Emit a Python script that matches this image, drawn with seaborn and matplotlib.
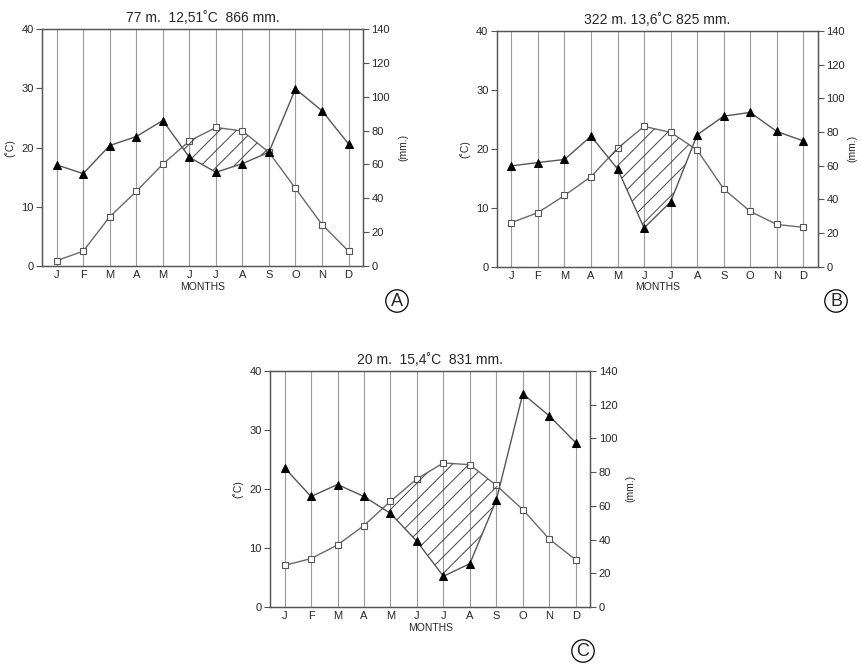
import numpy as np
import pandas as pd
import matplotlib
matplotlib.use("Agg")
import matplotlib.pyplot as plt
import seaborn as sns

months = ["J", "F", "M", "A", "M", "J", "J", "A", "S", "O", "N", "D"]

# panel A
titleA = "77 m.  12,51˚C  866 mm."
tempA = [0.9, 2.5, 8.3, 12.6, 17.2, 21.1, 23.4, 22.8, 19.2, 13.1, 7.0, 2.5]
precA = [59.8, 54.6, 71.2, 76.5, 86.0, 64.3, 55.4, 60.5, 67.3, 104.7, 91.7, 72.2]

# panel B
titleB = "322 m. 13,6˚C 825 mm."
tempB = [7.5, 9.2, 12.1, 15.3, 20.1, 23.8, 22.8, 19.8, 13.2, 9.4, 7.2, 6.7]
precB = [59.9, 61.9, 63.7, 77.5, 58.1, 23.1, 38.6, 78.3, 89.4, 91.6, 80.3, 74.7]

# panel C
titleC = "20 m.  15,4˚C  831 mm."
tempC = [7.05, 8.2, 10.5, 13.8, 17.9, 21.7, 24.4, 24.1, 20.6, 16.5, 11.5, 8.0]
precC = [82.5, 65.5, 72.6, 65.5, 55.5, 38.9, 18.2, 25.7, 63.4, 126.4, 113.3, 97.4]

sns.set_theme(style="white")
plt.rcParams['font.family'] = ['Liberation Sans', 'DejaVu Sans']
plt.rcParams['hatch.linewidth'] = 0.7

fig = plt.figure(figsize=(8.61, 6.69), dpi=100)


def climograph(rect, title, temp, prec, letter, letter_xy, mm_pad=6):
    ax = fig.add_axes(rect)
    ax2 = ax.twinx()
    x = np.arange(12)
    df = pd.DataFrame({"m": x, "t": temp, "p": prec})

    for a in (ax, ax2):
        a.set_xlim(-0.55, 11.55)
        for s in a.spines.values():
            s.set_color("#555555")
            s.set_linewidth(0.9)
    ax.set_ylim(0, 40)
    ax2.set_ylim(0, 140)

    for xi in x:
        ax.axvline(xi, color="#9a9a9a", lw=0.8, zorder=0)

    # dry period: temperature curve (scaled 40 C = 140 mm) above rainfall
    t_sc = df["t"].values * 3.5
    p = df["p"].values
    ax2.fill_between(x, p, t_sc, where=t_sc >= p, interpolate=True,
                     facecolor="none", edgecolor="#444444", hatch="//",
                     linewidth=0, zorder=1)

    sns.lineplot(data=df, x="m", y="t", ax=ax, color="#6a6a6a", lw=1.0,
                 marker="s", markersize=5, markerfacecolor="white",
                 markeredgecolor="#555555", markeredgewidth=0.8, zorder=3)
    sns.lineplot(data=df, x="m", y="p", ax=ax2, color="#555555", lw=1.0,
                 marker="^", markersize=6, markerfacecolor="black",
                 markeredgecolor="black", zorder=4)

    ax.set_xticks(x)
    ax.set_xticklabels(months, fontsize=8)
    ax.tick_params(axis="x", length=0, pad=3)
    ax.set_yticks([0, 10, 20, 30, 40])
    ax.tick_params(axis="y", left=True, length=4, width=0.8, color="#555555",
                   labelsize=8, pad=2)
    ax2.set_yticks(range(0, 141, 20))
    ax2.tick_params(axis="y", right=True, length=4, width=0.8, color="#555555",
                    labelsize=8, pad=2)
    ax.set_xlabel("MONTHS", fontsize=7.5, labelpad=1)
    ax.set_ylabel("(˚C)", fontsize=7.5, labelpad=4)
    ax2.set_ylabel("(mm.)", fontsize=7.5, labelpad=mm_pad)
    ax.set_title(title, fontsize=10, pad=5)
    ax.grid(False)
    ax2.grid(False)
    ax2.set_zorder(ax.get_zorder() + 1)
    ax2.patch.set_visible(False)

    fig.text(letter_xy[0], letter_xy[1], letter, fontsize=13, ha="center",
             va="center",
             bbox=dict(boxstyle="circle,pad=0.15", fc="white", ec="black", lw=0.9))


climograph([0.0488, 0.6024, 0.373, 0.354], titleA, tempA, precA, "A", (397 / 861, 1 - 301 / 669))
climograph([0.577, 0.601, 0.373, 0.353], titleB, tempB, precB, "B", (836 / 861, 1 - 301 / 669), mm_pad=2)
climograph([0.3136, 0.0927, 0.372, 0.353], titleC, tempC, precC, "C", (583 / 861, 1 - 651 / 669))

fig.savefig("out.png", dpi=100)
